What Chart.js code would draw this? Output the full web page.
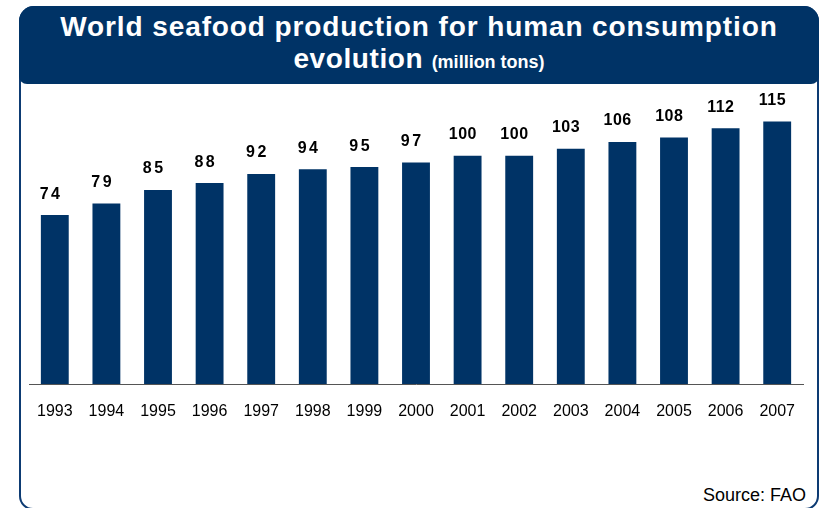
<!DOCTYPE html>
<html>
<head>
<meta charset="utf-8">
<title>World seafood production</title>
<script src="https://cdn.jsdelivr.net/npm/chart.js@4.4.1/dist/chart.umd.min.js"></script>
<style>
  body { margin: 0; background: #fff; font-family: Arial, "Liberation Sans", sans-serif; overflow: hidden; }
  #frame {
    position: absolute; left: 19px; top: 6px; width: 800px; height: 504px;
    box-sizing: border-box; border: 2px solid #0d3b73; border-radius: 15px 15px 14px 14px;
  }
  #header {
    position: absolute; left: -2px; top: -2px; width: 800px; height: 78px;
    background: #003366; border-radius: 15px 15px 8px 8px;
    color: #fff; font-weight: bold; text-align: center;
  }
  .line { position: absolute; left: 0; width: 100%; line-height: 32px; white-space: nowrap; }
  #line1 { top: 5px; font-size: 28px; letter-spacing: 0.9px; }
  #line2 { top: 37px; font-size: 28px; letter-spacing: 0.6px; }
  #line2 span { font-size: 18px; letter-spacing: 0; }
  #source {
    position: absolute; right: 19px; top: 485px; line-height: 20px;
    font-size: 18px; color: #000;
  }
  #chart { position: absolute; left: 0; top: 0; }
</style>
</head>
<body>
<div id="frame">
  <div id="header">
    <div class="line" id="line1">World seafood production for human consumption</div>
    <div class="line" id="line2">evolution <span>(million tons)</span></div>
  </div>
</div>
<div id="source">Source: FAO</div>
<canvas id="chart" width="825" height="508"></canvas>
<script>
// yearly production, million tons
const years = ['1993', '1994', '1995', '1996', '1997', '1998', '1999', '2000',
               '2001', '2002', '2003', '2004', '2005', '2006', '2007'];
const production = [74, 79, 85, 88, 92, 94, 95, 97, 100, 100, 103, 106, 108, 112, 115];
const yMax = 120;

const navy = '#003366';

// numbers printed above each bar
const valueLabels = {
    id: 'valueLabels',
    afterDatasetsDraw(chart) {
        const ctx = chart.ctx;
        const meta = chart.getDatasetMeta(0);
        ctx.save();
        ctx.font = 'bold 16px Arial, "Liberation Sans", sans-serif';
        ctx.fillStyle = '#000';
        ctx.textAlign = 'center';
        ctx.textBaseline = 'alphabetic';
        meta.data.forEach((bar, i) => {
            const text = String(production[i]);
            const spacing = text.length < 3 ? 2.5 : 0.5;
            ctx.letterSpacing = spacing + 'px';
            ctx.fillText(text, bar.x - 5 + spacing / 2, bar.y - 16.5);
        });
        ctx.restore();
    }
};

const ctx = document.getElementById('chart').getContext('2d');
new Chart(ctx, {
    type: 'bar',
    data: {
        labels: years,
        datasets: [{
            data: production,
            backgroundColor: navy,
            borderWidth: 0,
            barPercentage: 0.54,
            categoryPercentage: 1.0
        }]
    },
    options: {
        responsive: false,
        animation: false,
        devicePixelRatio: 1,
        layout: { padding: { left: 29, right: 22, top: 110, bottom: 0 } },
        plugins: {
            legend: { display: false },
            tooltip: { enabled: false }
        },
        scales: {
            x: {
                grid: { display: false, drawTicks: false },
                border: { display: true, color: '#555', width: 1 },
                ticks: {
                    color: '#000',
                    padding: 18,
                    font: { family: 'Arial, "Liberation Sans", sans-serif', size: 16 }
                },
                afterFit: scale => { scale.height = 124; }
            },
            y: {
                display: false,
                min: 0,
                max: yMax
            }
        }
    },
    plugins: [valueLabels]
});
</script>
</body>
</html>
